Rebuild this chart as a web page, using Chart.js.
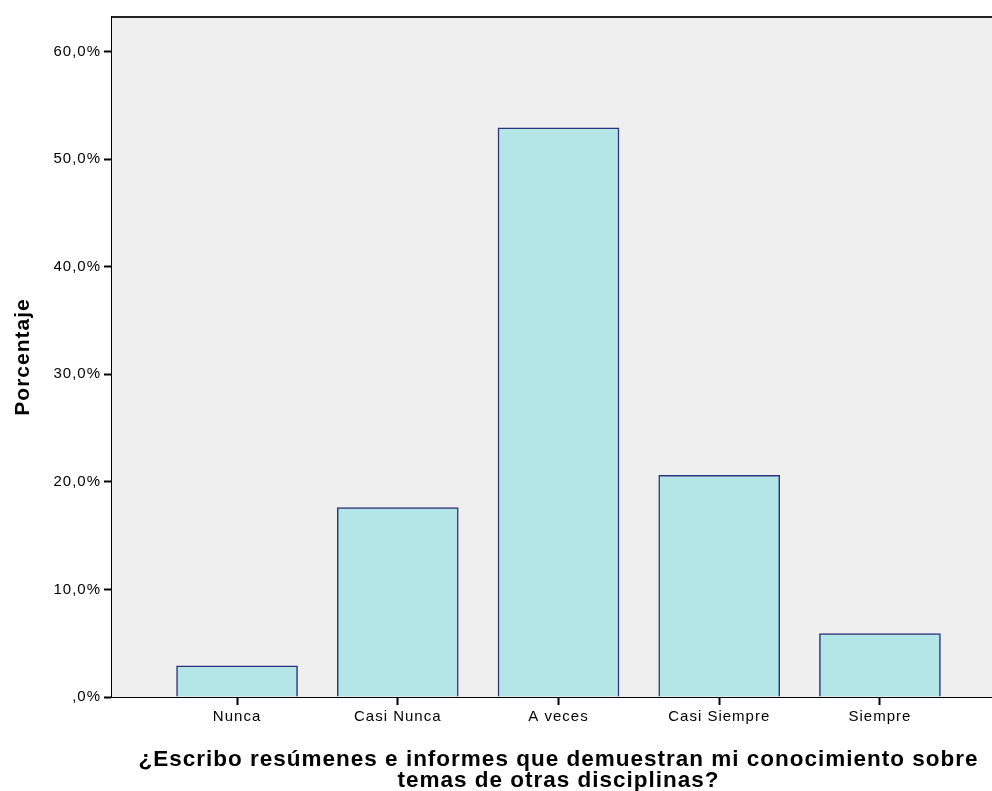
<!DOCTYPE html>
<html>
<head>
<meta charset="utf-8">
<script src="https://cdn.jsdelivr.net/npm/chart.js@4.4.0/dist/chart.umd.min.js"></script>
<style>
  html,body{margin:0;padding:0;background:#fff;overflow:hidden;}
  #wrap{width:1005px;height:791px;position:relative;}
</style>
</head>
<body>
<div id="wrap"><canvas id="barChart"></canvas></div>
<script>
// categories and values (percent of respondents)
const categories = ["Nunca","Casi Nunca","A veces","Casi Siempre","Siempre"];
const percentages = [2.9, 17.6, 52.9, 20.6, 5.9];
const yTicks = [0,10,20,30,40,50,60];
const yTickLabels = [",0%","10,0%","20,0%","30,0%","40,0%","50,0%","60,0%"];
const xTitle = ["¿Escribo resúmenes e informes que demuestran mi conocimiento sobre","temas de otras disciplinas?"];
const yTitle = "Porcentaje";

Chart.defaults.font.family = "'Liberation Sans', Arial, sans-serif";
Chart.defaults.color = "#000";

// SPSS-like spaced lettering + grey plot background with top frame line
const plotFrame = {
    id:"plotFrame",
    beforeInit(chart){ chart.ctx.letterSpacing = "1px"; },
    beforeDraw(chart){ chart.ctx.letterSpacing = "1px"; },
    beforeDatasetsDraw(chart){
        const {ctx, chartArea:a} = chart;
        ctx.save();
        ctx.fillStyle = "#efefef";
        ctx.fillRect(a.left, a.top, a.right - a.left, a.bottom - a.top);
        ctx.strokeStyle = "#222";
        ctx.lineWidth = 2;
        ctx.beginPath();
        ctx.moveTo(a.left, a.top);
        ctx.lineTo(a.right, a.top);
        ctx.stroke();
        ctx.restore();
    }
};

const ctx = document.getElementById("barChart").getContext("2d");
new Chart(ctx,{
    type:"bar",
    data:{
        datasets:[{
            label:"Porcentaje",
            data:percentages.map((v,i)=>({x:i+1,y:v})),
            backgroundColor:"rgb(180,230,232)",
            borderColor:"rgb(45,50,125)",
            borderWidth:1.5,
            barThickness:121
        }]
    },
    options:{
        responsive:true,
        maintainAspectRatio:false,
        animation:false,
        layout:{padding:{top:17,left:0,right:0,bottom:0}},
        plugins:{legend:{display:false},tooltip:{enabled:false}},
        scales:{
            x:{
                type:"linear",
                offset:false,
                min:1-0.778,
                max:categories.length+0.778,
                afterBuildTicks:s=>{s.ticks = categories.map((c,i)=>({value:i+1}));},
                afterFit:s=>{s.height = 94;},
                ticks:{
                    callback:v=>categories[v-1],
                    font:{size:15},
                    padding:3,
                    maxRotation:0
                },
                grid:{offset:false,drawOnChartArea:false,drawTicks:true,tickLength:8,tickWidth:2,tickColor:"#000"},
                border:{display:true,color:"#000",width:2},
                title:{
                    display:true,
                    text:xTitle,
                    font:{size:22.5,weight:"bold",lineHeight:"21px"},
                    padding:{top:0,bottom:0}
                }
            },
            y:{
                min:0,
                max:63.2,
                afterBuildTicks:s=>{s.ticks = yTicks.map(v=>({value:v}));},
                afterFit:s=>{s.width = 112;},
                ticks:{
                    callback:(v)=>yTickLabels[yTicks.indexOf(v)],
                    font:{size:15},
                    padding:3
                },
                grid:{drawOnChartArea:false,drawTicks:true,tickLength:8,tickWidth:2,tickColor:"#000"},
                border:{display:true,color:"#000",width:2},
                title:{
                    display:true,
                    text:yTitle,
                    font:{size:21,weight:"bold"},
                    padding:{top:11,bottom:0}
                }
            }
        }
    },
    plugins:[plotFrame]
});
</script>
</body>
</html>
